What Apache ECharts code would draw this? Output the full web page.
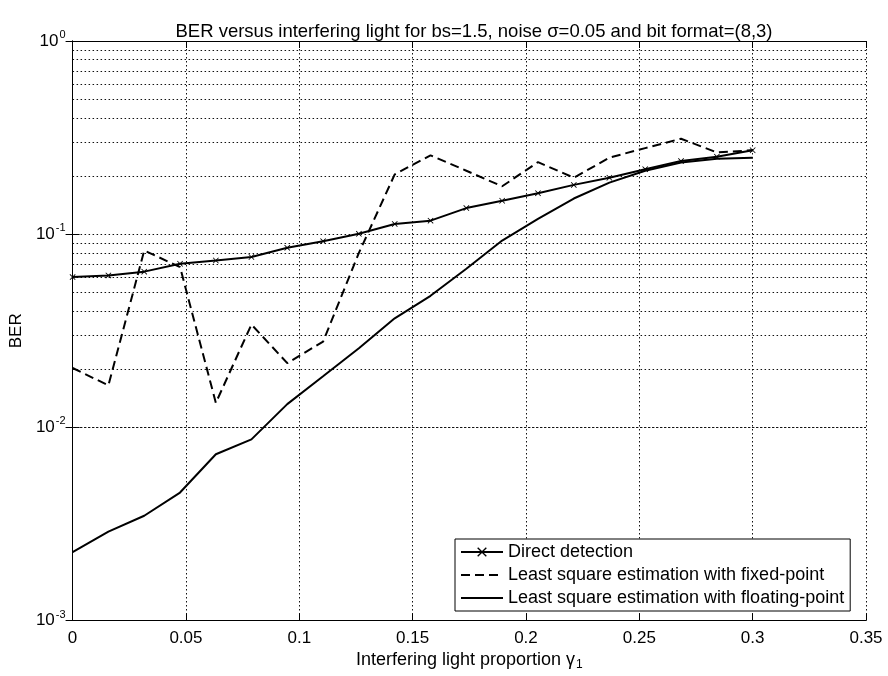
<!DOCTYPE html>
<html>
<head>
<meta charset="utf-8">
<style>
  html, body { margin: 0; padding: 0; background: #fff; }
  #chart { width: 888px; height: 676px; }
</style>
<script src="https://cdn.jsdelivr.net/npm/echarts@6/dist/echarts.min.js"></script>
</head>
<body>
<div id="chart"></div>
<script>
// Interfering light proportion (gamma_1), 20 sample points from 0 to 0.3
const gammaValues = [0, 0.0158, 0.0316, 0.0474, 0.0632, 0.0789, 0.0947, 0.1105, 0.1263, 0.1421,
                     0.1579, 0.1737, 0.1895, 0.2053, 0.2211, 0.2368, 0.2526, 0.2684, 0.2842, 0.3];

// Bit error rate for each receiver
const berDirect   = [0.060, 0.0612, 0.064, 0.0703, 0.0731, 0.0762, 0.085, 0.092, 0.1005, 0.113,
                     0.1175, 0.1365, 0.149, 0.163, 0.180, 0.196, 0.217, 0.239, 0.252, 0.272];
const berFixed    = [0.0203, 0.0165, 0.0823, 0.0676, 0.0134, 0.0341, 0.0215, 0.0278, 0.080, 0.204,
                     0.256, 0.213, 0.177, 0.236, 0.196, 0.249, 0.279, 0.312, 0.265, 0.272];
const berFloating = [0.00226, 0.00289, 0.00349, 0.0046, 0.00726, 0.00867, 0.0132, 0.0184, 0.0257, 0.0367,
                     0.048, 0.0663, 0.0927, 0.12, 0.153, 0.185, 0.213, 0.235, 0.246, 0.249];

const seriesNames = ['Direct detection',
                     'Least square estimation with fixed-point',
                     'Least square estimation with floating-point'];

const titleText = 'BER versus interfering light for bs=1.5, noise \u03c3=0.05 and bit format=(8,3)';
const decadeMantissas = [2, 3, 4, 5, 6, 7, 8, 9];
const decades = [1e-3, 1e-2, 1e-1];

const FONT = '"Liberation Sans", Arial, sans-serif';
const dotted = [1.5, 2.5];

// minor log grid lines (2..9 within each decade)
const minorGrid = [];
decades.forEach(d => decadeMantissas.forEach(m => minorGrid.push({ yAxis: +(m * d).toPrecision(3) })));

const pairs = arr => arr.map((v, i) => [gammaValues[i], v]);

// small "x" marker for the direct-detection curve
const xMark = 'path://M0,1 L1,0 L5,4 L9,0 L10,1 L6,5 L10,9 L9,10 L5,6 L1,10 L0,9 L4,5 Z';

const chart = echarts.init(document.getElementById('chart'), null, { renderer: 'canvas' });

chart.setOption({
  animation: false,
  backgroundColor: '#fff',
  textStyle: { fontFamily: FONT, color: '#000' },
  title: {
    text: titleText,
    left: 469,
    top: 17,
    textAlign: 'center',
    textStyle: { fontFamily: FONT, fontSize: 18.5, fontWeight: 'normal', color: '#000' }
  },
  grid: { left: 69, top: 41, width: 797, height: 583, containLabel: false },
  legend: {
    data: [
      { name: seriesNames[0] },
      { name: seriesNames[1], itemStyle: { opacity: 0 } },
      { name: seriesNames[2], itemStyle: { opacity: 0 } }
    ],
    orient: 'vertical',
    left: 455,
    top: 539,
    padding: [4, 6, 4, 5],
    itemGap: 5,
    itemWidth: 42,
    itemHeight: 12,
    backgroundColor: '#fff',
    borderColor: '#000',
    borderWidth: 1,
    textStyle: { fontFamily: FONT, fontSize: 18, color: '#000', lineHeight: 18 }
  },
  xAxis: [{
    type: 'value',
    min: 0, max: 0.35, interval: 0.05,
    position: 'bottom',
    axisLine: { show: true, lineStyle: { color: '#000', width: 1 } },
    axisTick: { show: true, inside: true, length: 7, lineStyle: { color: '#000' } },
    axisLabel: {
      margin: 9, fontSize: 17, color: '#000', fontFamily: FONT,
      formatter: v => String(+v.toFixed(2))
    },
    splitLine: { show: true, lineStyle: { color: '#111', type: dotted, width: 1 } },
    name: '{t|Interfering light proportion }{g|\u03b3}{s|1}',
    nameLocation: 'middle',
    nameGap: 26,
    nameTextStyle: {
      rich: {
        t: { fontSize: 18, fontFamily: FONT, color: '#000' },
        g: { fontSize: 18, fontFamily: FONT, color: '#000' },
        s: { fontSize: 12, fontFamily: FONT, color: '#000', padding: [9, 0, 0, 1] }
      }
    }
  }, {
    type: 'value',
    min: 0, max: 0.35, interval: 0.05,
    position: 'top',
    axisLine: { show: true, lineStyle: { color: '#000', width: 1 } },
    axisTick: { show: true, inside: true, length: 7, lineStyle: { color: '#000' } },
    axisLabel: { show: false },
    splitLine: { show: false }
  }],
  yAxis: [{
    type: 'log',
    logBase: 10,
    min: 1e-3, max: 1,
    position: 'left',
    axisLine: { show: true, lineStyle: { color: '#000', width: 1 } },
    axisTick: { show: true, inside: true, length: 7, lineStyle: { color: '#000' } },
    axisLabel: {
      margin: 7,
      formatter: v => '{b|10}{e|' + Math.round(Math.log10(v)) + '}',
      rich: {
        b: { fontSize: 17, fontFamily: FONT, color: '#000' },
        e: { fontSize: 11, fontFamily: FONT, color: '#000', padding: [0, 0, 12, 1] }
      }
    },
    splitLine: { show: true, lineStyle: { color: '#111', type: dotted, width: 1 } },
    name: 'BER',
    nameLocation: 'middle',
    nameGap: 41,
    nameTextStyle: { fontSize: 17, fontFamily: FONT, color: '#000' }
  }, {
    type: 'log',
    logBase: 10,
    min: 1e-3, max: 1,
    position: 'right',
    axisLine: { show: true, lineStyle: { color: '#000', width: 1 } },
    axisTick: { show: true, inside: true, length: 7, lineStyle: { color: '#000' } },
    axisLabel: { show: false },
    splitLine: { show: false }
  }],
  series: [{
    name: seriesNames[0],
    type: 'line',
    data: pairs(berDirect),
    symbol: xMark,
    symbolSize: 6,
    showSymbol: true,
    itemStyle: { color: '#000' },
    lineStyle: { color: '#000', width: 2 },
    z: 5,
    markLine: {
      silent: true,
      symbol: 'none',
      label: { show: false },
      lineStyle: { color: '#111', type: dotted, width: 1 },
      data: minorGrid,
      z: 1
    }
  }, {
    name: seriesNames[1],
    type: 'line',
    data: pairs(berFixed),
    symbol: 'none',
    itemStyle: { color: '#000' },
    lineStyle: { color: '#000', width: 2, type: [9, 5] },
    z: 4
  }, {
    name: seriesNames[2],
    type: 'line',
    data: pairs(berFloating),
    symbol: 'none',
    itemStyle: { color: '#000' },
    lineStyle: { color: '#000', width: 2 },
    z: 4
  }]
});
</script>
</body>
</html>
